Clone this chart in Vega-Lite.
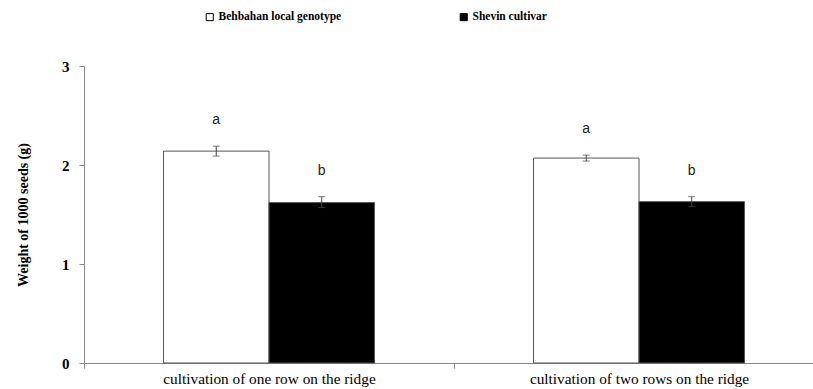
{
  "$schema": "https://vega.github.io/schema/vega-lite/v6.json",
  "width": 729,
  "height": 297,
  "autosize": "none",
  "padding": {"left": 84, "top": 66, "right": 0, "bottom": 26},
  "background": "white",
  "config": {"view": {"stroke": null}},
  "data": {
    "values": [
      {"system": "cultivation of one row on the ridge", "genotype": "Behbahan local genotype", "mean": 2.14, "lower": 2.09, "upper": 2.19, "letter": "a"},
      {"system": "cultivation of one row on the ridge", "genotype": "Shevin cultivar", "mean": 1.62, "lower": 1.57, "upper": 1.68, "letter": "b"},
      {"system": "cultivation of two rows on the ridge", "genotype": "Behbahan local genotype", "mean": 2.07, "lower": 2.04, "upper": 2.10, "letter": "a"},
      {"system": "cultivation of two rows on the ridge", "genotype": "Shevin cultivar", "mean": 1.63, "lower": 1.58, "upper": 1.68, "letter": "b"}
    ]
  },
  "encoding": {
    "x": {
      "field": "system", "type": "nominal", "title": null,
      "scale": {"range": [0, 740], "paddingInner": 0, "paddingOuter": 0},
      "axis": {
        "labelAngle": 0, "labelFont": "Liberation Serif", "labelFontSize": 15.3, "labelColor": "black",
        "labelPadding": 3, "domainColor": "#888", "tickColor": "#888", "tickSize": 5,
        "tickBand": "extent", "labelLimit": 400
      }
    },
    "xOffset": {"field": "genotype", "type": "nominal", "scale": {"paddingInner": 0, "paddingOuter": 0.754}}
  },
  "layer": [
    {
      "mark": {"type": "bar", "stroke": "#555", "strokeWidth": 1},
      "encoding": {
        "y": {
          "field": "mean", "type": "quantitative", "title": "Weight of 1000 seeds (g)",
          "scale": {"domain": [0, 3]},
          "axis": {
            "values": [0, 1, 2, 3], "format": "d", "grid": false, "labelFont": "Liberation Serif", "labelFontSize": 15,
            "labelFontWeight": "bold", "labelColor": "black", "labelPadding": 10, "tickSize": 5,
            "domainColor": "#888", "tickColor": "#888",
            "titleFont": "Liberation Serif", "titleFontSize": 14, "titleFontWeight": "bold", "titleColor": "black",
            "titlePadding": 31
          }
        },
        "fill": {
          "field": "genotype", "type": "nominal",
          "scale": {"domain": ["Behbahan local genotype", "Shevin cultivar"], "range": ["white", "black"]},
          "legend": {
            "title": null, "orient": "none", "direction": "horizontal", "legendX": 120, "legendY": -55,
            "symbolType": "square", "symbolSize": 50, "symbolStrokeColor": "black", "symbolStrokeWidth": 1,
            "labelFont": "Liberation Serif", "labelFontSize": 11.5, "labelFontWeight": "bold", "labelColor": "black",
            "columnPadding": 116, "labelOffset": 3, "labelLimit": 300
          }
        }
      }
    },
    {
      "mark": {"type": "rule", "color": "#444", "strokeWidth": 1},
      "encoding": {"y": {"field": "lower", "type": "quantitative"}, "y2": {"field": "upper"}}
    },
    {
      "mark": {"type": "tick", "color": "#444", "thickness": 1, "size": 7, "orient": "horizontal"},
      "encoding": {"y": {"field": "upper", "type": "quantitative"}}
    },
    {
      "mark": {"type": "tick", "color": "#444", "thickness": 1, "size": 7, "orient": "horizontal"},
      "encoding": {"y": {"field": "lower", "type": "quantitative"}}
    },
    {
      "mark": {"type": "text", "font": "Liberation Sans", "fontSize": 14, "color": "#222", "dy": -26},
      "encoding": {"y": {"field": "upper", "type": "quantitative"}, "text": {"field": "letter"}}
    }
  ]
}
